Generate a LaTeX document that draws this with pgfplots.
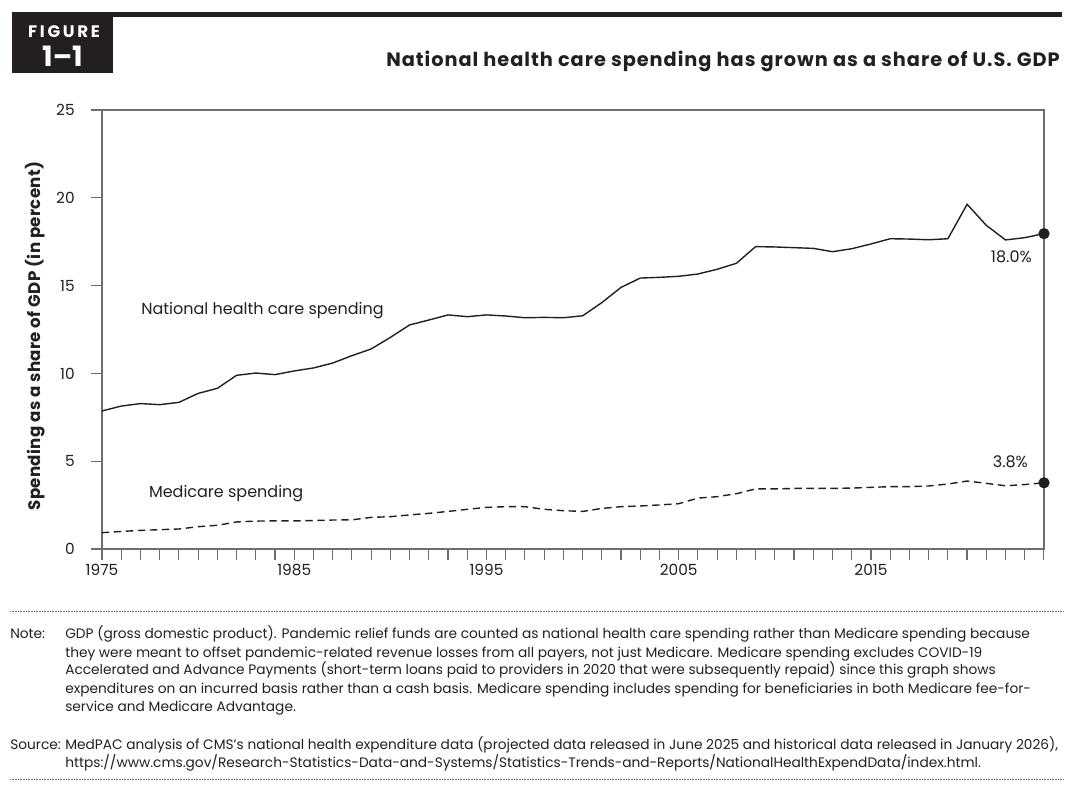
\documentclass[border=0pt]{standalone}
\usepackage{fontspec}
\setmainfont{Poppins}
\usepackage{pgfplots}
\pgfplotsset{compat=1.18}
\definecolor{ink}{RGB}{35,31,32}
\definecolor{axgray}{RGB}{110,110,112}

\begin{document}
\begin{tikzpicture}[x=0.75pt,y=0.75pt]
\path[use as bounding box] (0,0) rectangle (1074,789);

% header
\fill[ink] (12,772) rectangle (1062,777);
\fill[ink] (12,716) rectangle (113,777);
\node[white,font=\fontsize{12.5}{13}\selectfont\bfseries\addfontfeatures{LetterSpace=16}] at (64,757.5) {FIGURE};
\node[white,font=\fontsize{21}{21}\selectfont\bfseries] at (62.5,733) {1–1};
\node[anchor=base east,inner sep=0pt,ink,font=\fontsize{14.5}{16}\selectfont\bfseries\addfontfeatures{LetterSpace=5}] at (1060,722)
  {National health care spending has grown as a share of U.S. GDP};

% y label
\node[rotate=90,ink,font=\fontsize{12.5}{14}\selectfont\bfseries\addfontfeatures{LetterSpace=2}] at (35,453)
  {Spending as a share of GDP (in percent)};

\begin{axis}[
    at={(76.5pt,180pt)}, anchor=south west,
    scale only axis,
    width=706.5pt, height=329.25pt,
    xmin=1975, xmax=2024, ymin=0, ymax=25,
    axis line style={axgray, line width=0.8pt},
    xtick={1975,1985,1995,2005,2015},
    minor xtick={1975,...,2024},
    ytick={0,5,...,25},
    tick pos=left,
    tick align=outside,
    tick style={axgray, line width=0.8pt},
    major tick length=8pt, minor tick length=8pt,
    xticklabels={1975,1985,1995,2005,2015},
    yticklabel style={xshift=-9pt},
    ticklabel style={font=\fontsize{11.5}{13}\selectfont, ink},
    /pgf/number format/assume math mode=true,
    clip=false,
]
% National health care spending, share of GDP (%)
\addplot[ink, line width=1.05pt] coordinates {
(1975,7.86) (1976,8.14) (1977,8.28) (1978,8.22) (1979,8.35) (1980,8.86)
(1981,9.15) (1982,9.89) (1983,10.02) (1984,9.93) (1985,10.14) (1986,10.31)
(1987,10.59) (1988,11.01) (1989,11.39) (1990,12.05) (1991,12.76) (1992,13.04)
(1993,13.33) (1994,13.23) (1995,13.33) (1996,13.27) (1997,13.17) (1998,13.19)
(1999,13.17) (2000,13.28) (2001,14.03) (2002,14.90) (2003,15.43) (2004,15.47)
(2005,15.53) (2006,15.66) (2007,15.93) (2008,16.27) (2009,17.22) (2010,17.20)
(2011,17.16) (2012,17.12) (2013,16.93) (2014,17.10) (2015,17.37) (2016,17.67)
(2017,17.65) (2018,17.61) (2019,17.67) (2020,19.63) (2021,18.43) (2022,17.60)
(2023,17.73) (2024,17.96)
};
% Medicare spending, share of GDP (%)
\addplot[ink, line width=1.05pt, dash pattern=on 5.5pt off 3.5pt] coordinates {
(1975,0.93) (1976,1.00) (1977,1.06) (1978,1.10) (1979,1.14) (1980,1.27)
(1981,1.35) (1982,1.54) (1983,1.59) (1984,1.60) (1985,1.60) (1986,1.62)
(1987,1.65) (1988,1.66) (1989,1.80) (1990,1.84) (1991,1.94) (1992,2.03)
(1993,2.14) (1994,2.26) (1995,2.37) (1996,2.41) (1997,2.41) (1998,2.26)
(1999,2.18) (2000,2.14) (2001,2.31) (2002,2.41) (2003,2.45) (2004,2.51)
(2005,2.58) (2006,2.90) (2007,2.98) (2008,3.15) (2009,3.42) (2010,3.42)
(2011,3.45) (2012,3.45) (2013,3.45) (2014,3.47) (2015,3.51) (2016,3.55)
(2017,3.55) (2018,3.59) (2019,3.70) (2020,3.87) (2021,3.74) (2022,3.60)
(2023,3.67) (2024,3.77)
};
% end points
\addplot[only marks, mark=*, mark size=4pt, ink] coordinates {(2024,17.96) (2024,3.77)};

\node[anchor=west,ink,font=\fontsize{12}{14}\selectfont] at (axis cs:1976.8,13.55) {National health care spending};
\node[anchor=west,ink,font=\fontsize{12}{14}\selectfont] at (axis cs:1977.2,3.13) {Medicare spending};
\node[ink,font=\fontsize{12}{14}\selectfont] at (axis cs:2022.3,16.63) {18.0\%};
\node[ink,font=\fontsize{12}{14}\selectfont] at (axis cs:2022.25,4.95) {3.8\%};
\end{axis}

% separators
\draw[axgray, line width=0.6pt, dash pattern=on 0.6pt off 0.6pt] (10,178) -- (1064,178);
\draw[axgray, line width=0.6pt, dash pattern=on 0.6pt off 0.6pt] (10,10) -- (1064,10);

% notes
\begin{scope}[every node/.style={anchor=base west, inner sep=0pt, ink, font=\fontsize{10.3}{12}\selectfont}]
\node at (10,150) {Note:};
\node at (65,150) {GDP (gross domestic product). Pandemic relief funds are counted as national health care spending rather than Medicare spending because};
\node at (65,132) {they were meant to offset pandemic-related revenue losses from all payers, not just Medicare. Medicare spending excludes COVID-19};
\node at (65,114) {Accelerated and Advance Payments (short-term loans paid to providers in 2020 that were subsequently repaid) since this graph shows};
\node at (65,96) {expenditures on an incurred basis rather than a cash basis. Medicare spending includes spending for beneficiaries in both Medicare fee-for-};
\node at (65,78) {service and Medicare Advantage.};
\node at (10,40) {Source:};
\node at (65,40) {MedPAC analysis of CMS’s national health expenditure data (projected data released in June 2025 and historical data released in January 2026),};
\node at (65,22) {https://www.cms.gov/Research-Statistics-Data-and-Systems/Statistics-Trends-and-Reports/NationalHealthExpendData/index.html.};
\end{scope}
\end{tikzpicture}
\end{document}
